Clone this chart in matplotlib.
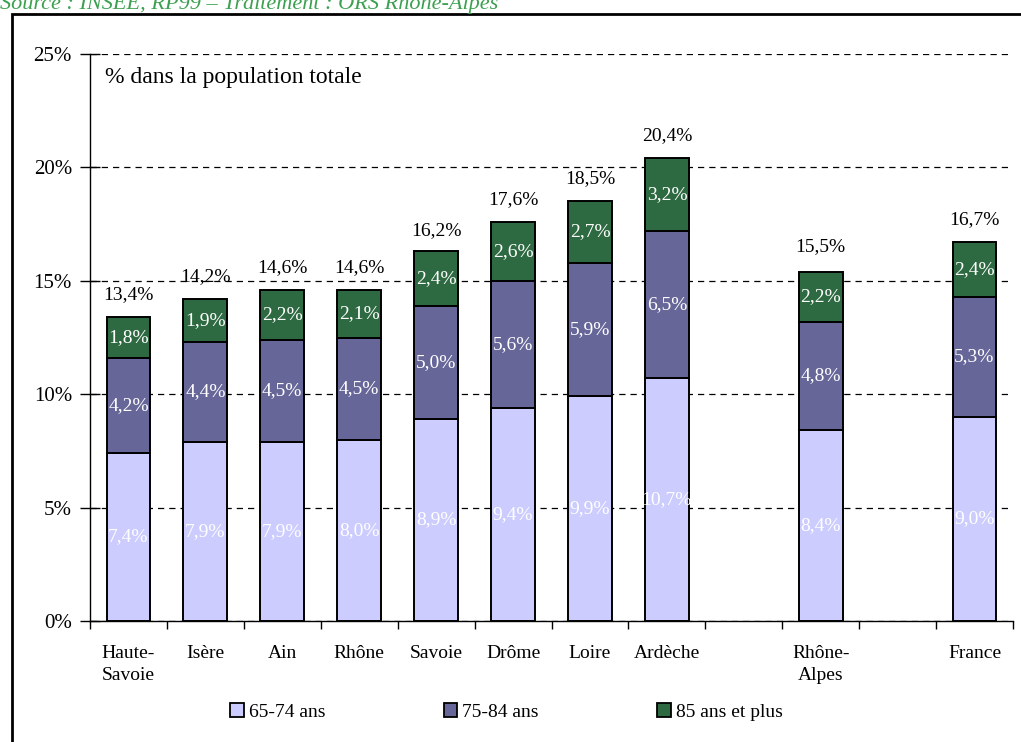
import matplotlib
matplotlib.use("Agg")
import matplotlib.pyplot as plt
from matplotlib.patches import Rectangle, Patch
import numpy as np

plt.rcParams['font.family'] = ['Liberation Serif', 'DejaVu Serif']

categories = ["Haute-\nSavoie", "Isère", "Ain", "Rhône", "Savoie", "Drôme",
              "Loire", "Ardèche", "Rhône-\nAlpes", "France"]
slots = [0, 1, 2, 3, 4, 5, 6, 7, 9, 11]  # empty slots between groups
age_65_74 = [7.4, 7.9, 7.9, 8.0, 8.9, 9.4, 9.9, 10.7, 8.4, 9.0]
age_75_84 = [4.2, 4.4, 4.5, 4.5, 5.0, 5.6, 5.9, 6.5, 4.8, 5.3]
age_85 = [1.8, 1.9, 2.2, 2.1, 2.4, 2.6, 2.7, 3.2, 2.2, 2.4]
totals = [13.4, 14.2, 14.6, 14.6, 16.2, 17.6, 18.5, 20.4, 15.5, 16.7]
series_names = ["65-74 ans", "75-84 ans", "85 ans et plus"]
colors = ["#CCCCFF", "#666699", "#2D6A41"]

def fr(v):
    return ("%.1f%%" % v).replace(".", ",")

fig = plt.figure(figsize=(10.21, 7.42), dpi=100)
ax = fig.add_axes([90/1021, 1-621/742, 923/1021, 567/742])

x = np.array(slots)
w = 0.57
bottom = np.zeros(len(x))
for vals, col in zip([age_65_74, age_75_84, age_85], colors):
    vals = np.array(vals)
    ax.bar(x, vals, w, bottom=bottom, color=col, edgecolor="black", linewidth=1.4, zorder=3)
    for xi, b, v in zip(x, bottom, vals):
        ax.text(xi, b + v/2, fr(v), ha="center", va="center", color="white",
                fontsize=14, zorder=4)
    bottom += vals

for xi, t in zip(x, totals):
    ax.text(xi, t + 1.0, fr(t), ha="center", va="center", fontsize=14, zorder=4)

ax.set_xlim(-0.5, 11.5)
ax.set_ylim(0, 25)
ax.set_yticks([0, 5, 10, 15, 20, 25])
ax.set_yticklabels(["0%", "5%", "10%", "15%", "20%", "25%"], fontsize=15)
ax.yaxis.grid(True, color="black", linestyle=(0, (5, 4)), linewidth=0.9)
ax.set_axisbelow(True)
ax.tick_params(axis="y", direction="inout", length=14, width=1, pad=6)

ax.set_xticks(x)
ax.set_xticklabels(categories, fontsize=14, linespacing=1.42)
ax.set_xticks(np.arange(-0.5, 12, 1), minor=True)
ax.tick_params(axis="x", which="major", length=0, pad=17)
ax.tick_params(axis="x", which="minor", length=6, width=1, direction="out")

for s in ["top", "right"]:
    ax.spines[s].set_visible(False)
ax.spines["left"].set_linewidth(1)
ax.spines["bottom"].set_linewidth(1)

fig.text(105/1021, 1-78/742, "% dans la population totale", fontsize=17, va="center")

fig.text(0.0, 1-4/742, "Source : INSEE, RP99 \u2013 Traitement : ORS Rh\u00f4ne-Alpes",
         color="#3CA050", style="italic", fontsize=16, va="center")

fig.patches.append(Rectangle((12/1021, -0.1), 1.2, (742-14)/742 + 0.1,
                             transform=fig.transFigure, fill=False,
                             edgecolor="black", linewidth=2))

handles = [Patch(facecolor=c, edgecolor="black", linewidth=1.3) for c in colors]
fig.legend(handles, series_names, ncol=3, loc="center",
           bbox_to_anchor=(0.496, 1-712/742), frameon=False, fontsize=14,
           handlelength=0.7, handleheight=0.7, handletextpad=0.25,
           columnspacing=6.1)

fig.savefig("out.png", dpi=100)
